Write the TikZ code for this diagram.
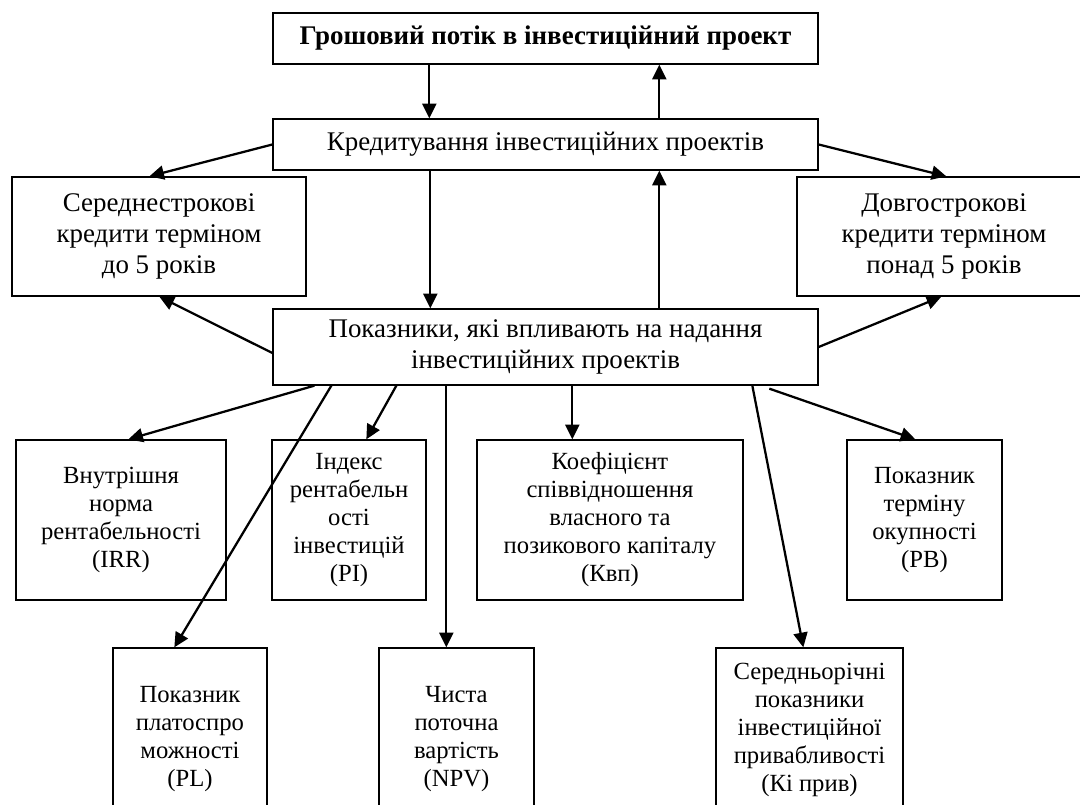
\documentclass[tikz,border=0pt]{standalone}
\usepackage{fontspec}
\setmainfont{Liberation Serif}
\usepackage{tikz}
\usetikzlibrary{arrows.meta, calc, positioning}
\tikzset{
        x=0.75pt, y=-0.75pt, % one unit is one pixel of the scheme
        sz/.style 2 args={minimum width=#1*0.75pt, minimum height=#2*0.75pt}, % box size in pixels
        link/.style={line width=1.7pt, -{Triangle[length=11pt, width=10.5pt]}}, % arrows between boxes
        bigtext/.style={font=\fontsize{20.2}{23}\selectfont}, % upper boxes use a larger font
    }
\tikzstyle{block}=[draw, line width=1pt, rectangle, align=center, inner sep=0pt, font=\fontsize{18.5}{21}\selectfont]

\begin{document}
\begin{tikzpicture}
    \useasboundingbox (0,0) rectangle (1080,805);
    \clip (0,0) rectangle (1080,805);

    % top part
    \node[block, sz={545}{51}, font=\fontsize{20.2}{23}\selectfont\bfseries] (top) at (545.5,38.5) {Грошовий потік в інвестиційний проект};
    \node[block, bigtext, sz={545}{51}] (kred) at (545.5,144.5) {Кредитування інвестиційних проектів};
    \node[block, bigtext, sz={294}{119}] (sered) at (159,236.5) {Середнестрокові\\кредити терміном\\до 5 років};
    \node[block, bigtext, sz={294}{119}] (dovh) at (944,236.5) {Довгострокові\\кредити терміном\\понад 5 років};
    \node[block, bigtext, sz={545}{76}] (pok) at (545.5,347) {Показники, які впливають на надання\\інвестиційних проектів};

    % indicators
    \node[block, sz={210}{160}] (irr) at (121,520) {Внутрішня\\норма\\рентабельності\\(IRR)};
    \node[block, sz={154}{160}] (pi) at (349,520) {Індекс\\рентабельн\\ості\\інвестицій\\(PI)};
    \node[block, sz={266}{160}] (kvp) at (610,520) {Коефіцієнт\\співвідношення\\власного та\\позикового капіталу\\(Квп)};
    \node[block, sz={155}{160}] (pb) at (924.5,520) {Показник\\терміну\\окупності\\(PB)};
    \node[block, sz={154}{182}] (pl) at (190,739) {Показник\\платоспро\\можності\\(PL)};
    \node[block, sz={155}{182}] (npv) at (456.5,739) {Чиста\\поточна\\вартість\\(NPV)};
    \node[block, sz={187}{164}] (ki) at (809.5,730) {Середньорічні\\показники\\інвестиційної\\привабливості\\(Кі прив)};

    % arrows
    \draw[link] ($(top.south west)+(157,0)$) -- ($(kred.north west)+(157,0)$);
    \draw[link] ($(kred.north west)+(387,0)$) -- ($(top.south west)+(387,0)$);
    \draw[link] (kred.west) -- ($(sered.north west)+(138,0)$);
    \draw[link] (kred.east) -- ($(dovh.north west)+(150,0)$);
    \draw[link] ($(kred.south west)+(158,0)$) -- ($(pok.north west)+(158,0)$);
    \draw[link] ($(pok.north west)+(387,0)$) -- ($(kred.south west)+(387,0)$);
    \draw[link] ($(pok.west)+(0,6)$) -- ($(sered.south west)+(148,0)$);
    \draw[link] (pok.east) -- ($(dovh.south west)+(145,0)$);
    \draw[link] ($(pok.south west)+(42,0)$) -- ($(irr.north west)+(113,0)$);
    \draw[link] ($(pok.south west)+(59,0)$) -- ($(pl.north west)+(62,0)$);
    \draw[link] ($(pok.south west)+(124,0)$) -- ($(pi.north west)+(95,0)$);
    \draw[link] ($(pok.south west)+(174,0)$) -- ($(npv.north west)+(68,0)$);
    \draw[link] ($(pok.south west)+(300,0)$) -- ($(kvp.north west)+(96,0)$);
    \draw[link] ($(pok.south west)+(480,0)$) -- ($(ki.north west)+(88,0)$);
    \draw[link] ($(pok.south west)+(497,3)$) -- ($(pb.north west)+(69,0)$);
\end{tikzpicture}
\end{document}
